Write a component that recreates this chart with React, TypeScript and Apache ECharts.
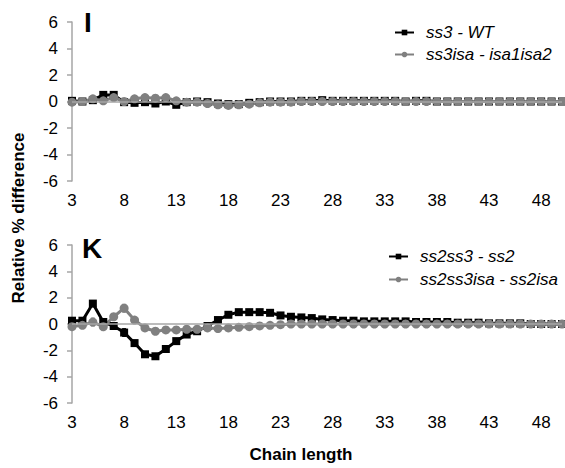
import React, { useEffect, useRef } from "react";
import * as echarts from "echarts";

const chainLengths = ["3","4","5","6","7","8","9","10","11","12","13","14","15","16","17","18","19","20","21","22","23","24","25","26","27","28","29","30","31","32","33","34","35","36","37","38","39","40","41","42","43","44","45","46","47","48","49","50"];

const yTicks = { min: -6, max: 6, interval: 2 };

// Panel I
const ss3WT = [0.05,0.0,0.1,0.5,0.5,-0.05,-0.1,-0.05,-0.15,0.0,-0.25,-0.05,0.0,-0.05,-0.15,-0.2,-0.2,-0.1,-0.05,0.0,0.0,0.0,0.05,0.05,0.1,0.05,0.05,0.05,0.05,0.05,0.05,0.05,0.0,0.05,0.05,0.0,0.0,0.0,0.0,0.0,0.0,0.0,0.0,0.0,0.0,0.0,0.0,0.0];
const ss3WTErr = [0.05,0.05,0.1,0.1,0.1,0.1,0.15,0.2,0.15,0.1,0.1,0.05,0.05,0.05,0.05,0.05,0.05,0.05,0.05,0.05,0.05,0.05,0.05,0.05,0.05,0.05,0.05,0.05,0.05,0.05,0.05,0.05,0.05,0.05,0.05,0.05,0.05,0.05,0.05,0.05,0.05,0.05,0.05,0.05,0.05,0.05,0.05,0.05];
const ss3isa = [-0.05,0.0,0.2,0.05,0.3,0.0,0.2,0.3,0.25,0.3,0.05,-0.05,-0.05,-0.15,-0.25,-0.3,-0.25,-0.2,-0.1,-0.05,-0.05,-0.05,0.0,0.0,0.0,0.0,0.0,0.0,0.0,0.0,0.0,0.0,0.0,0.0,0.0,0.0,0.0,0.0,0.0,0.0,0.0,0.0,0.0,0.0,0.0,0.0,0.0,0.0];
const ss3isaErr = [0.05,0.05,0.1,0.1,0.1,0.1,0.1,0.1,0.1,0.1,0.05,0.05,0.05,0.05,0.05,0.05,0.05,0.05,0.05,0.05,0.05,0.05,0.05,0.05,0.05,0.05,0.05,0.05,0.05,0.05,0.05,0.05,0.05,0.05,0.05,0.05,0.05,0.05,0.05,0.05,0.05,0.05,0.05,0.05,0.05,0.05,0.05,0.05];

// Panel K
const ss2ss3 = [0.25,0.25,1.55,0.15,-0.15,-0.65,-1.45,-2.3,-2.45,-1.9,-1.3,-0.8,-0.55,-0.15,0.3,0.7,0.9,0.9,0.9,0.85,0.65,0.55,0.5,0.45,0.35,0.3,0.25,0.25,0.2,0.2,0.2,0.2,0.2,0.15,0.15,0.15,0.15,0.1,0.1,0.1,0.05,0.05,0.05,0.05,0.0,0.0,0.0,0.0];
const ss2ss3Err = [0.1,0.1,0.2,0.15,0.15,0.3,0.2,0.2,0.15,0.1,0.1,0.1,0.1,0.05,0.05,0.05,0.05,0.05,0.05,0.05,0.05,0.05,0.05,0.05,0.05,0.05,0.05,0.05,0.05,0.05,0.05,0.05,0.05,0.05,0.05,0.05,0.05,0.05,0.05,0.05,0.05,0.05,0.05,0.05,0.05,0.05,0.05,0.05];
const ss2ss3isa = [-0.2,-0.1,0.15,-0.2,0.55,1.2,0.3,-0.3,-0.55,-0.45,-0.45,-0.4,-0.4,-0.3,-0.35,-0.3,-0.25,-0.2,-0.15,-0.1,-0.05,0.0,0.0,0.0,0.0,0.0,0.0,0.0,0.0,0.0,0.0,0.0,0.0,0.0,0.0,0.0,0.0,0.0,0.0,0.0,0.0,0.0,0.0,0.0,0.0,0.0,0.0,0.0];
const ss2ss3isaErr = [0.1,0.1,0.3,0.3,0.1,0.3,0.1,0.1,0.1,0.05,0.05,0.05,0.05,0.05,0.05,0.05,0.05,0.05,0.05,0.05,0.05,0.05,0.1,0.05,0.05,0.05,0.05,0.05,0.05,0.05,0.05,0.05,0.05,0.05,0.05,0.05,0.05,0.05,0.05,0.05,0.05,0.05,0.05,0.05,0.05,0.05,0.05,0.05];

const FONT = "'Liberation Sans', Arial, sans-serif";
const BLACK = "#000000";
const GRAY = "#808080";

function errorSeries(values: number[], errs: number[], color: string, axisIndex: number, withZero: boolean) {
  const s: any = {
    type: "custom",
    xAxisIndex: axisIndex,
    yAxisIndex: axisIndex,
    silent: true,
    data: values.map((v, i) => [i, v, errs[i]]),
    renderItem: (params: any, api: any) => {
      const x = api.value(0);
      const y = api.value(1);
      const e = api.value(2);
      const top = api.coord([x, y + e]);
      const bot = api.coord([x, y - e]);
      return {
        type: "group",
        children: [
          { type: "line", shape: { x1: top[0], y1: top[1], x2: bot[0], y2: bot[1] }, style: { stroke: color, lineWidth: 1 } },
          { type: "line", shape: { x1: top[0] - 2, y1: top[1], x2: top[0] + 2, y2: top[1] }, style: { stroke: color, lineWidth: 1 } },
          { type: "line", shape: { x1: bot[0] - 2, y1: bot[1], x2: bot[0] + 2, y2: bot[1] }, style: { stroke: color, lineWidth: 1 } },
        ],
      };
    },
  };
  if (withZero) {
    s.markLine = {
      silent: true,
      symbol: "none",
      label: { show: false },
      lineStyle: { color: "#a6a6a6", width: 1.5, type: "solid" },
      data: [{ yAxis: 0 }],
    };
  }
  return s;
}

function lineSeries(name: string, values: number[], color: string, symbol: string, size: number, axisIndex: number) {
  return {
    name,
    type: "line",
    xAxisIndex: axisIndex,
    yAxisIndex: axisIndex,
    data: values,
    symbol,
    symbolSize: size,
    showSymbol: true,
    showAllSymbol: true,
    itemStyle: { color },
    lineStyle: { color, width: 3 },
    z: 3,
  };
}

function xAxisDef(gridIndex: number) {
  return {
    type: "category",
    gridIndex,
    data: chainLengths,
    boundaryGap: false,
    axisLine: { show: false },
    axisTick: { show: false },
    axisLabel: { interval: 4, color: "#000", fontSize: 17, fontFamily: FONT, margin: 11 },
    splitLine: { show: false },
  };
}

function yAxisDef(gridIndex: number) {
  return {
    type: "value",
    gridIndex,
    min: yTicks.min,
    max: yTicks.max,
    interval: yTicks.interval,
    axisLine: { show: true, onZero: false, lineStyle: { color: "#a6a6a6", width: 1.5 } },
    axisTick: { show: true, length: 5, lineStyle: { color: "#a6a6a6", width: 1.5 } },
    axisLabel: { color: "#000", fontSize: 17, fontFamily: FONT, margin: 14 },
    splitLine: { show: false },
  };
}

export default function App() {
  const ref = useRef<HTMLDivElement>(null);
  useEffect(() => {
    if (!ref.current) return;
    const chart = echarts.init(ref.current, undefined, { renderer: "svg" });
    const legendText = { color: "#000", fontSize: 17, fontFamily: FONT, fontStyle: "italic", lineHeight: 17, padding: [0, 0, 0, 7] };
    chart.setOption({
      animation: false,
      backgroundColor: "#ffffff",
      grid: [
        { left: 72, right: 3, top: 22, height: 159 },
        { left: 72, right: 3, top: 245, height: 158 },
      ],
      xAxis: [xAxisDef(0), xAxisDef(1)],
      yAxis: [yAxisDef(0), yAxisDef(1)],
      legend: [
        {
          data: ["ss3 - WT", "ss3isa - isa1isa2"],
          orient: "vertical",
          left: 389,
          top: 19,
          itemWidth: 19,
          itemHeight: 7,
          itemGap: 5,
          textStyle: legendText,
        },
        {
          data: ["ss2ss3 - ss2", "ss2ss3isa - ss2isa"],
          orient: "vertical",
          left: 383,
          top: 243,
          itemWidth: 19,
          itemHeight: 7,
          itemGap: 6,
          textStyle: legendText,
        },
      ],
      graphic: [
        { type: "text", left: 84, top: 8, style: { text: "I", font: `bold 28px ${FONT}`, fill: "#000" } },
        { type: "text", left: 82, top: 234, style: { text: "K", font: `bold 28px ${FONT}`, fill: "#000" } },
        {
          type: "text",
          x: 18,
          y: 218,
          rotation: Math.PI / 2,
          style: { text: "Relative % difference", font: `bold 17px ${FONT}`, fill: "#000", align: "center", verticalAlign: "middle" },
        },
        {
          type: "text",
          x: 301,
          y: 454,
          style: { text: "Chain length", font: `bold 17px ${FONT}`, fill: "#000", align: "center", verticalAlign: "middle" },
        },
      ],
      series: [
        errorSeries(ss3WT, ss3WTErr, BLACK, 0, true),
        errorSeries(ss3isa, ss3isaErr, GRAY, 0, false),
        lineSeries("ss3 - WT", ss3WT, BLACK, "rect", 8, 0),
        lineSeries("ss3isa - isa1isa2", ss3isa, GRAY, "circle", 9, 0),
        errorSeries(ss2ss3, ss2ss3Err, BLACK, 1, true),
        errorSeries(ss2ss3isa, ss2ss3isaErr, GRAY, 1, false),
        lineSeries("ss2ss3 - ss2", ss2ss3, BLACK, "rect", 8, 1),
        lineSeries("ss2ss3isa - ss2isa", ss2ss3isa, GRAY, "circle", 9, 1),
      ],
    });
    return () => chart.dispose();
  }, []);
  return <div ref={ref} style={{ width: 565, height: 468, position: "absolute", left: 0, top: 0 }} />;
}
